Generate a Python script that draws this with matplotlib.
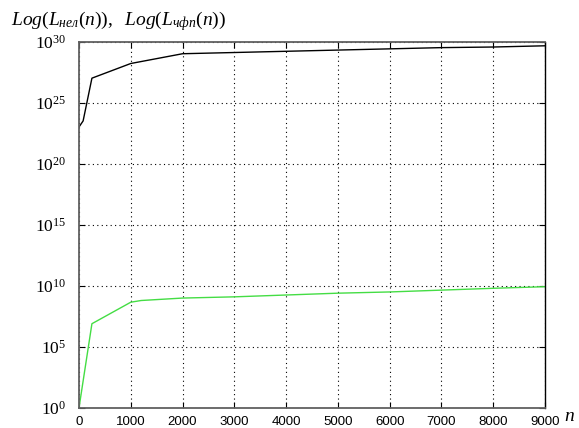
import matplotlib
matplotlib.use("Agg")
import matplotlib.pyplot as plt

plt.rcParams['mathtext.fontset'] = 'custom'
plt.rcParams['mathtext.rm'] = 'Liberation Serif'
plt.rcParams['mathtext.it'] = 'Liberation Serif:italic'

# Word length n and log10 of the two counts
n_nel = [0, 80, 250, 1000, 2000, 3000, 4000, 5000, 6000, 7000, 8000, 9000]
log_nel = [23.0, 23.5, 27.0, 28.2, 29.0, 29.1, 29.2, 29.3, 29.4, 29.5, 29.55, 29.65]

n_chfp = [0, 250, 1000, 1200, 2000, 3000, 4000, 5000, 6000, 7000, 8000, 9000]
log_chfp = [0.0, 6.9, 8.66, 8.8, 9.0, 9.1, 9.25, 9.4, 9.5, 9.65, 9.8, 9.93]

x_ticks = [0, 1000, 2000, 3000, 4000, 5000, 6000, 7000, 8000, 9000]
y_exps = [0, 5, 10, 15, 20, 25, 30]

fig = plt.figure(figsize=(5.79, 4.28), dpi=100)
ax = fig.add_axes([0.1364, 0.0467, 0.8049, 0.8563])

ax.semilogy(n_nel, [10.0 ** v for v in log_nel], color='black', lw=1.0)
ax.semilogy(n_chfp, [10.0 ** v for v in log_chfp], color='#44dd44', lw=1.0)

ax.set_xlim(0, 9000)
ax.set_ylim(1, 1e30)
ax.set_xticks(x_ticks)
ax.set_xticklabels([str(t) for t in x_ticks], fontname='Liberation Sans', fontsize=9.5)
ax.set_yticks([10.0 ** e for e in y_exps])
ax.set_yticklabels([r'$\mathrm{10^{%d}}$' % e for e in y_exps], fontsize=12.5)
ax.minorticks_off()
ax.tick_params(direction='in', length=4, width=0.8, top=True, right=True)
ax.tick_params(axis='x', pad=6)
ax.tick_params(axis='y', pad=9)
ax.grid(True, linestyle=(0, (1, 3)), color='black', lw=0.8)
for side in ('left', 'bottom', 'top'):
    ax.spines[side].set_color('#606060')
    ax.spines[side].set_linewidth(1.3)
ax.spines['right'].set_color('black')
ax.spines['right'].set_linewidth(1.0)

fig.text(0.019, 0.942, r'$Log(L_{нел}(n)),\ \ Log(L_{чфп}(n))$', fontsize=14)
fig.text(0.974, 0.017, r'$n$', fontsize=14)

fig.savefig('out.png', dpi=100)
